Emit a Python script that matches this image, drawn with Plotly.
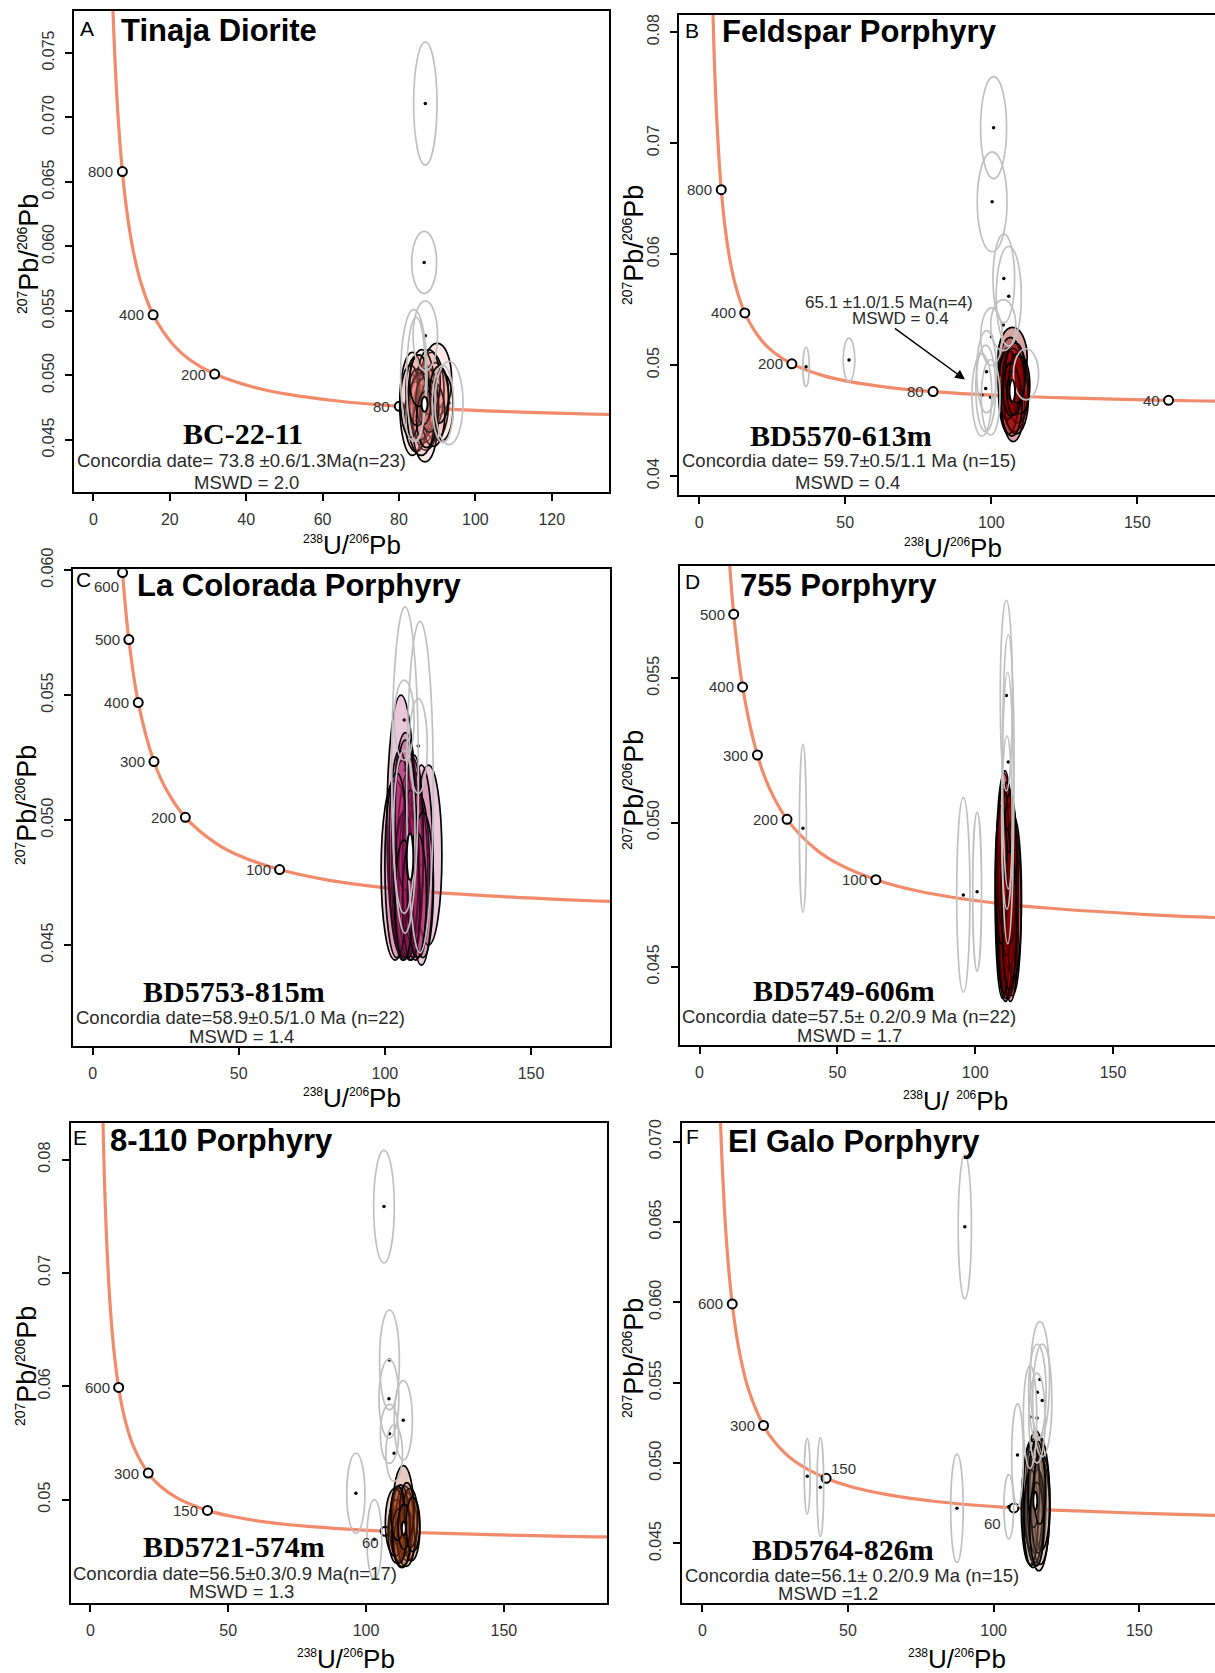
import plotly.graph_objects as go

# ---------------------------------------------------------------------------
# Tera-Wasserburg concordia: age (Ma), 238U/206Pb, 207Pb/206Pb
# ---------------------------------------------------------------------------
conc_age = [1300, 1200, 1150, 1100, 1000, 900, 800, 700, 600, 500, 400, 300,
            250, 200, 150, 125, 100, 80, 60, 50, 40, 35, 30]
conc_x = [4.476, 4.888, 5.121, 5.375, 5.959, 6.674, 7.568, 8.718, 10.252,
          12.399, 15.621, 20.992, 25.29, 31.73, 42.48, 51.07, 63.97, 80.08,
          106.94, 128.4, 160.7, 183.7, 214.5]
conc_y = [0.08433, 0.08012, 0.07812, 0.07619, 0.07249, 0.06905, 0.06580,
          0.06276, 0.05990, 0.05722, 0.05470, 0.05234, 0.05120, 0.05011,
          0.04905, 0.04853, 0.04802, 0.04761, 0.04721, 0.04702, 0.04682,
          0.04672, 0.04663]

# ---------------------------------------------------------------------------
# A  Tinaja Diorite (BC-22-11)
# ---------------------------------------------------------------------------
a_ages = [800, 400, 200, 80]
a_incl_x = [90.0, 83.5, 86.5, 89.5, 87.0, 85.0, 88.5, 84.5, 86.0, 91.0, 85.5, 87.5,
            86.8, 83.0, 89.0, 87.8, 85.8, 88.0, 86.4, 84.8, 90.5, 87.2, 85.2]
a_incl_y = [0.0497, 0.0478, 0.0478, 0.0480, 0.0470, 0.0490, 0.0488, 0.0468, 0.0485,
            0.0476, 0.0475, 0.0482, 0.0460, 0.0480, 0.0470, 0.0495, 0.0470, 0.0476,
            0.0480, 0.0483, 0.0485, 0.0466, 0.0496]
a_incl_sx = [3.8, 3.3, 3.6, 3.5, 3.4, 3.2, 3.3, 3.0, 3.5, 3.2, 2.8, 2.8, 3.2, 2.6,
             3.0, 3.0, 3.6, 2.4, 2.0, 2.5, 2.5, 2.6, 2.4]
a_incl_sy = [0.0028, 0.0040, 0.0030, 0.0030, 0.0028, 0.0026, 0.0030, 0.0027, 0.0035,
             0.0027, 0.0025, 0.0024, 0.0027, 0.0028, 0.0025, 0.0025, 0.0032, 0.0020,
             0.0018, 0.0022, 0.0022, 0.0022, 0.0020]
a_excl_x = [86.9, 86.6, 86.9, 83.9, 84.5, 93.1, 91.5]
a_excl_y = [0.07107, 0.05876, 0.05308, 0.0500, 0.0497, 0.04787, 0.0478]
a_excl_sx = [3.06, 3.26, 3.2, 3.46, 2.5, 3.67, 2.8]
a_excl_sy = [0.00476, 0.00241, 0.0027, 0.0051, 0.0048, 0.00323, 0.0030]
a_mean = [86.7, 0.04777, 0.8, 0.00058]

# ---------------------------------------------------------------------------
# B  Feldspar Porphyry (BD5570-613m)
# ---------------------------------------------------------------------------
b_ages = [800, 400, 200, 80, 40]
b_incl_x = [107.3, 106.5, 108.0, 107.5, 109.0, 106.0, 108.5, 107.5, 105.5, 110.0,
            107.0, 108.2, 106.8, 107.8, 108.8]
b_incl_y = [0.0507, 0.0490, 0.0480, 0.0468, 0.0478, 0.0476, 0.0470, 0.0485, 0.0483,
            0.0482, 0.0466, 0.0492, 0.0478, 0.0475, 0.0488]
b_incl_sx = [5.0, 4.2, 4.5, 4.0, 3.8, 3.5, 4.2, 3.6, 3.0, 3.2, 3.6, 3.4, 2.8, 2.4, 2.6]
b_incl_sy = [0.0027, 0.0035, 0.0040, 0.0037, 0.0030, 0.0038, 0.0032, 0.0030, 0.0032,
             0.0026, 0.0030, 0.0028, 0.0024, 0.0020, 0.0022]
b_excl_x = [100.8, 100.3, 104.3, 106.0, 104.1, 100.1, 111.9, 96.8, 98.1, 98.4, 99.8,
            36.6, 51.3]
b_excl_y = [0.07139, 0.06471, 0.0578, 0.0562, 0.0536, 0.05256, 0.04917, 0.0473,
            0.0479, 0.0494, 0.0471, 0.04985, 0.05046]
b_excl_sx = [4.45, 5.1, 3.7, 4.3, 4.3, 3.7, 4.3, 3.4, 3.4, 3.4, 3.2, 1.1, 2.0]
b_excl_sy = [0.00459, 0.0045, 0.0040, 0.0045, 0.0023, 0.0026, 0.0023, 0.0037, 0.0039,
             0.0037, 0.0034, 0.00178, 0.00196]
b_mean = [107.2, 0.04768, 0.97, 0.00098]

# ---------------------------------------------------------------------------
# C  La Colorada Porphyry (BD5753-815m)
# ---------------------------------------------------------------------------
c_ages = [600, 500, 400, 300, 200, 100]
c_incl_x = [105.5, 107.0, 114.9, 112.5, 103.5, 108.5, 110.5, 106.0, 109.5, 107.5, 111.5,
            105.0, 108.0, 110.0, 106.5, 113.0, 108.8, 107.0, 104.0, 109.0, 111.0, 106.5]
c_incl_y = [0.0498, 0.0490, 0.0486, 0.0482, 0.0480, 0.0482, 0.0478, 0.0484, 0.0485,
            0.0475, 0.0478, 0.0488, 0.0476, 0.0490, 0.0474, 0.0474, 0.0482, 0.0502,
            0.0482, 0.0468, 0.0470, 0.0468]
c_incl_sx = [4.8, 4.5, 4.6, 4.0, 4.8, 4.5, 4.2, 3.8, 3.5, 4.0, 3.8, 3.6, 3.3, 3.2, 3.5,
             3.6, 2.8, 3.5, 4.0, 3.0, 3.2, 3.0]
c_incl_sy = [0.0052, 0.0045, 0.0036, 0.0040, 0.0036, 0.0038, 0.0034, 0.0040, 0.0040,
             0.0030, 0.0033, 0.0040, 0.0031, 0.0036, 0.0029, 0.0029, 0.0030, 0.0030,
             0.0037, 0.0024, 0.0025, 0.0024]
c_excl_x = [106.9, 112.0, 106.6, 111.4, 106.6]
c_excl_y = [0.0520, 0.05132, 0.0540, 0.05296, 0.04953]
c_excl_sx = [4.55, 4.55, 3.4, 3.1, 3.7]
c_excl_sy = [0.00653, 0.00663, 0.0016, 0.0019, 0.00326]
c_mean = [108.6, 0.04853, 1.14, 0.00093]

# ---------------------------------------------------------------------------
# D  755 Porphyry (BD5749-606m)
# ---------------------------------------------------------------------------
d_ages = [500, 400, 300, 200, 100]
d_incl_x = [110.5, 111.5, 112.5, 110.0, 113.5, 111.0, 112.0, 110.8, 111.8, 112.8, 109.8,
            113.0, 111.2, 112.2, 110.4, 111.6, 114.0, 110.2, 112.6, 111.4, 109.5, 112.4]
d_incl_y = [0.0480, 0.0478, 0.0475, 0.0472, 0.0470, 0.0470, 0.0468, 0.0485, 0.0482,
            0.0463, 0.0476, 0.0479, 0.0465, 0.0474, 0.0468, 0.0488, 0.0474, 0.0488,
            0.0484, 0.0476, 0.0482, 0.0466]
d_incl_sx = [3.0, 2.8, 3.2, 2.7, 3.2, 3.2, 3.0, 2.6, 2.4, 2.8, 2.5, 2.6, 2.6, 2.2, 2.4,
             2.2, 2.8, 2.2, 2.4, 2.0, 2.2, 2.6]
d_incl_sy = [0.0037, 0.0036, 0.0035, 0.0033, 0.0030, 0.0032, 0.0029, 0.0033, 0.0030,
             0.0025, 0.0030, 0.0028, 0.0026, 0.0025, 0.0027, 0.0026, 0.0028, 0.0025,
             0.0026, 0.0022, 0.0024, 0.0024]
d_excl_x = [37.5, 95.7, 100.7, 111.3, 112.0, 111.8, 111.5]
d_excl_y = [0.0498, 0.04749, 0.0476, 0.0544, 0.0521, 0.0505, 0.0500]
d_excl_sx = [1.27, 2.4, 1.6, 2.2, 2.1, 2.1, 1.9]
d_excl_sy = [0.00291, 0.00337, 0.00275, 0.0033, 0.0044, 0.0047, 0.0030]
d_mean = None

# ---------------------------------------------------------------------------
# E  8-110 Porphyry (BD5721-574m)
# ---------------------------------------------------------------------------
e_ages = [600, 300, 150, 60]
e_incl_x = [113.5, 112.0, 115.0, 113.0, 111.0, 116.5, 114.0, 112.5, 110.5, 114.5, 113.0,
            116.0, 112.0, 114.8, 111.5, 113.8, 117.0]
e_incl_y = [0.0490, 0.0478, 0.0476, 0.0470, 0.0472, 0.0474, 0.0482, 0.0485, 0.0480,
            0.0466, 0.0463, 0.0484, 0.0468, 0.0490, 0.0488, 0.0476, 0.0478]
e_incl_sx = [3.8, 3.5, 3.5, 3.6, 3.0, 3.0, 3.2, 3.0, 3.5, 3.2, 3.0, 2.8, 2.6, 2.6, 2.5,
             2.2, 2.5]
e_incl_sy = [0.0040, 0.0032, 0.0030, 0.0030, 0.0028, 0.0028, 0.0030, 0.0028, 0.0030,
             0.0025, 0.0022, 0.0026, 0.0024, 0.0025, 0.0024, 0.0020, 0.0024]
e_excl_x = [106.5, 108.5, 108.3, 113.5, 108.5, 110.2, 96.3, 103.0]
e_excl_y = [0.07585, 0.06232, 0.0589, 0.0570, 0.0558, 0.0541, 0.05056, 0.0465]
e_excl_sx = [3.75, 3.6, 3.6, 3.3, 3.3, 3.0, 3.3, 2.7]
e_excl_sy = [0.00496, 0.00441, 0.0035, 0.0035, 0.0026, 0.0025, 0.00353, 0.0035]
e_mean = [113.7, 0.04747, 0.73, 0.00059]

# ---------------------------------------------------------------------------
# F  El Galo Porphyry (BD5764-826m)
# ---------------------------------------------------------------------------
f_ages = [600, 300, 150, 60]
f_incl_x = [113.5, 114.5, 115.5, 112.5, 116.0, 114.0, 113.0, 115.0, 116.5, 114.2, 112.8,
            115.2, 113.8, 114.8, 115.8]
f_incl_y = [0.0475, 0.0478, 0.0475, 0.0472, 0.0470, 0.0468, 0.0480, 0.0482, 0.0476,
            0.0472, 0.0466, 0.0470, 0.0485, 0.0462, 0.0484]
f_incl_sx = [3.8, 3.5, 3.8, 3.0, 3.2, 3.0, 2.8, 2.6, 2.8, 2.5, 2.4, 2.2, 2.0, 2.4, 2.0]
f_incl_sy = [0.0040, 0.0042, 0.0042, 0.0035, 0.0033, 0.0030, 0.0034, 0.0032, 0.0030,
             0.0028, 0.0030, 0.0026, 0.0025, 0.0026, 0.0022]
f_excl_x = [90.1, 36.0, 40.5, 87.4, 105.2, 108.2, 115.9, 116.7, 115.0, 114.9, 112.5]
f_excl_y = [0.0647, 0.04918, 0.04850, 0.04719, 0.04728, 0.0505, 0.0552, 0.0539, 0.0544,
            0.0528, 0.05286]
f_excl_sx = [2.27, 1.0, 1.14, 2.15, 1.68, 2.0, 3.3, 3.3, 3.0, 2.8, 2.3]
f_excl_sy = [0.00447, 0.00235, 0.00307, 0.00337, 0.0020, 0.00318, 0.0036, 0.0035, 0.0030,
             0.0028, 0.0032]
f_mean = [114.3, 0.04765, 0.69, 0.00057]

# ---------------------------------------------------------------------------
# Panel layout and styling
# ---------------------------------------------------------------------------
W, H = 1215, 1673
SANS = "Liberation Sans, Arial, sans-serif"
SERIF = "Liberation Serif, Times New Roman, serif"
CURVE = "#F28B6C"
GREY = "rgb(192,192,192)"
INK = "#2a2a2a"


def iso(mass, size):
    return f'<sup><span style="font-size:{size}px">{mass}</span></sup>'


X_LABEL = f"{iso(238, 12)}U/{iso(206, 12)}Pb"
X_LABEL_D = f"{iso(238, 12)}U/ {iso(206, 12)}Pb"
Y_LABEL = f"{iso(207, 14)}Pb/{iso(206, 14)}Pb"

panels = [
    dict(letter="A", title="Tinaja Diorite", sample="BC-22-11",
         date="Concordia date= 73.8 \u00b10.6/1.3Ma(n=23)", mswd="MSWD = 2.0",
         ages=a_ages, incl=(a_incl_x, a_incl_y, a_incl_sx, a_incl_sy),
         excl=(a_excl_x, a_excl_y, a_excl_sx, a_excl_sy), mean=a_mean,
         fill="rgba(240,130,120,0.18)",
         px=(74, 609), py=(10.7, 492.1), xr=[-5.1, 135], yr=[0.04096, 0.07827],
         xt=[0, 20, 40, 60, 80, 100, 120],
         yt=[0.045, 0.050, 0.055, 0.060, 0.065, 0.070, 0.075], yfmt="{:.3f}",
         p_letter=(0.025, 0.963), p_title=(0.085, 0.959), p_sample=(0.316, 0.121),
         p_date=(0.314, 0.065), p_mswd=(0.323, 0.019),
         xtitle=(352, 545), ytitle=(29, 254), xlab=X_LABEL, lab={}),
    dict(letter="B", title="Feldspar Porphyry", sample="BD5570-613m",
         date="Concordia date= 59.7\u00b10.5/1.1 Ma (n=15)", mswd="MSWD = 0.4",
         ages=b_ages, incl=(b_incl_x, b_incl_y, b_incl_sx, b_incl_sy),
         excl=(b_excl_x, b_excl_y, b_excl_sx, b_excl_sy), mean=b_mean,
         fill="rgba(150,0,0,0.36)",
         px=(679, 1215), py=(15, 494.6), xr=[-6.9, 176.6], yr=[0.03833, 0.08154],
         xt=[0, 50, 100, 150], yt=[0.04, 0.05, 0.06, 0.07, 0.08], yfmt="{:.2f}",
         p_letter=(0.025, 0.968), p_title=(0.077, 0.966), p_sample=(0.303, 0.124),
         p_date=(0.318, 0.0715), p_mswd=(0.315, 0.0246),
         xtitle=(953, 548), ytitle=(634, 245), xlab=X_LABEL, lab={}),
    dict(letter="C", title="La Colorada Porphyry", sample="BD5753-815m",
         date="Concordia date=58.9\u00b10.5/1.0 Ma (n=22)", mswd="MSWD = 1.4",
         ages=c_ages, incl=(c_incl_x, c_incl_y, c_incl_sx, c_incl_sy),
         excl=(c_excl_x, c_excl_y, c_excl_sx, c_excl_sy), mean=c_mean,
         fill="rgba(172,32,102,0.25)",
         px=(73, 610), py=(569.3, 1046.1), xr=[-6.7, 177], yr=[0.04096, 0.06003],
         xt=[0, 50, 100, 150], yt=[0.045, 0.050, 0.055, 0.060], yfmt="{:.3f}",
         p_letter=(0.0198, 0.979), p_title=(0.115, 0.966), p_sample=(0.299, 0.1144),
         p_date=(0.311, 0.060), p_mswd=(0.3147, 0.021),
         xtitle=(352, 1098), ytitle=(27, 805), xlab=X_LABEL,
         lab={600: ("right", "top", -2, -3)}),
    dict(letter="D", title="755 Porphyry", sample="BD5749-606m",
         date="Concordia date=57.5\u00b1 0.2/0.9 Ma (n=22)", mswd="MSWD = 1.7",
         ages=d_ages, incl=(d_incl_x, d_incl_y, d_incl_sx, d_incl_sy),
         excl=(d_excl_x, d_excl_y, d_excl_sx, d_excl_sy), mean=d_mean,
         fill="rgba(160,0,0,0.36)",
         px=(679.7, 1215), py=(565.7, 1045), xr=[-7.2, 187], yr=[0.04229, 0.0589],
         xt=[0, 50, 100, 150], yt=[0.045, 0.050, 0.055], yfmt="{:.3f}",
         p_letter=(0.024, 0.966), p_title=(0.109, 0.959), p_sample=(0.307, 0.114),
         p_date=(0.316, 0.059), p_mswd=(0.318, 0.020),
         xtitle=(955, 1101), ytitle=(634, 790), xlab=X_LABEL_D, lab={}),
    dict(letter="E", title="8-110 Porphyry", sample="BD5721-574m",
         date="Concordia date=56.5\u00b10.3/0.9 Ma(n=17)", mswd="MSWD = 1.3",
         ages=e_ages, incl=(e_incl_x, e_incl_y, e_incl_sx, e_incl_sy),
         excl=(e_excl_x, e_excl_y, e_excl_sx, e_excl_sy), mean=e_mean,
         fill="rgba(170,70,30,0.28)",
         px=(70.8, 607), py=(1122.6, 1603), xr=[-7.1, 187.4], yr=[0.04088, 0.08326],
         xt=[0, 50, 100, 150], yt=[0.05, 0.06, 0.07, 0.08], yfmt="{:.2f}",
         p_letter=(0.0168, 0.970), p_title=(0.069, 0.963), p_sample=(0.305, 0.118),
         p_date=(0.307, 0.062), p_mswd=(0.319, 0.023),
         xtitle=(346, 1659), ytitle=(27, 1366), xlab=X_LABEL,
         lab={60: ("right", "top", -4, -1)}),
    dict(letter="F", title="El Galo Porphyry", sample="BD5764-826m",
         date="Concordia date=56.1\u00b1 0.2/0.9 Ma (n=15)", mswd="MSWD =1.2",
         ages=f_ages, incl=(f_incl_x, f_incl_y, f_incl_sx, f_incl_sy),
         excl=(f_excl_x, f_excl_y, f_excl_sx, f_excl_sy), mean=f_mean,
         fill="rgba(165,125,105,0.24)",
         px=(681.7, 1215), py=(1122.6, 1602.6), xr=[-7.1, 176], yr=[0.04132, 0.07118],
         xt=[0, 50, 100, 150], yt=[0.045, 0.050, 0.055, 0.060, 0.065, 0.070],
         yfmt="{:.3f}",
         p_letter=(0.020, 0.972), p_title=(0.084, 0.960), p_sample=(0.303, 0.111),
         p_date=(0.320, 0.056), p_mswd=(0.274, 0.019),
         xtitle=(957, 1659), ytitle=(634, 1358), xlab=X_LABEL,
         lab={150: ("left", "bottom", 3, -1), 60: ("right", "top", -11, -5)}),
]

fig = go.Figure()
layout = {}
annotations = []
shapes = []


def ellipse(xref, yref, cx, cy, sx, sy, line, width, fill):
    return dict(type="circle", xref=xref, yref=yref, x0=cx - sx, x1=cx + sx,
                y0=cy - sy, y1=cy + sy, line=dict(color=line, width=width),
                fillcolor=fill, layer="above")


for i, p in enumerate(panels, start=1):
    xa = "x" if i == 1 else f"x{i}"
    ya = "y" if i == 1 else f"y{i}"
    left, right = p["px"]
    top, bottom = p["py"]

    axis_common = dict(showline=True, mirror=True, linecolor="black", linewidth=2,
                       ticks="outside", ticklen=7, tickwidth=1.5, tickcolor="black",
                       showgrid=False, zeroline=False, ticklabelstandoff=5,
                       automargin=False,
                       tickfont=dict(family=SANS, size=16, color="#333"))
    layout["xaxis" if i == 1 else f"xaxis{i}"] = dict(
        domain=[left / W, right / W], range=p["xr"], anchor=ya,
        tickvals=p["xt"], ticktext=[str(v) for v in p["xt"]], **axis_common)
    layout["yaxis" if i == 1 else f"yaxis{i}"] = dict(
        domain=[1 - bottom / H, 1 - top / H], range=p["yr"], anchor=xa,
        tickvals=p["yt"], ticktext=[p["yfmt"].format(v) for v in p["yt"]],
        tickangle=-90, **axis_common)

    # concordia line
    fig.add_trace(go.Scatter(x=conc_x, y=conc_y, mode="lines", xaxis=xa, yaxis=ya,
                             line=dict(color=CURVE, width=3.2, shape="spline"),
                             hoverinfo="skip", showlegend=False))

    # age ticks on the concordia
    mx = [conc_x[conc_age.index(a)] for a in p["ages"]]
    my = [conc_y[conc_age.index(a)] for a in p["ages"]]
    fig.add_trace(go.Scatter(x=mx, y=my, mode="markers", xaxis=xa, yaxis=ya,
                             marker=dict(symbol="circle", size=9, color="white",
                                         line=dict(color="black", width=2)),
                             hoverinfo="skip", showlegend=False))
    for a, x, y in zip(p["ages"], mx, my):
        xan, yan, xs, ys = p["lab"].get(a, ("right", "middle", -7, 0))
        annotations.append(dict(x=x, y=y, xref=xa, yref=ya, text=str(a),
                                showarrow=False, xanchor=xan, yanchor=yan,
                                xshift=xs, yshift=ys,
                                font=dict(family=SANS, size=15, color="#333")))

    # analysis centres
    ix, iy, isx, isy = p["incl"]
    ex, ey, esx, esy = p["excl"]
    fig.add_trace(go.Scatter(x=list(ex) + list(ix), y=list(ey) + list(iy),
                             mode="markers", xaxis=xa, yaxis=ya,
                             marker=dict(size=3.5, color="black"),
                             hoverinfo="skip", showlegend=False))

    # included analyses (filled), then rejected analyses (grey outlines)
    for cx, cy, sx, sy in zip(ix, iy, isx, isy):
        shapes.append(ellipse(xa, ya, cx, cy, sx, sy, "black", 1.7, p["fill"]))
    for cx, cy, sx, sy in zip(ex, ey, esx, esy):
        shapes.append(ellipse(xa, ya, cx, cy, sx, sy, GREY, 1.7, "rgba(0,0,0,0)"))
    if p["mean"] is not None:
        cx, cy, sx, sy = p["mean"]
        shapes.append(ellipse(xa, ya, cx, cy, sx, sy, "black", 2, "white"))

    dom_x = f"{xa} domain"
    dom_y = f"{ya} domain"
    annotations += [
        dict(x=p["p_letter"][0], y=p["p_letter"][1], xref=dom_x, yref=dom_y,
             text=p["letter"], showarrow=False, xanchor="center", yanchor="middle",
             font=dict(family=SANS, size=21, color="black")),
        dict(x=p["p_title"][0], y=p["p_title"][1], xref=dom_x, yref=dom_y,
             text=f"<b>{p['title']}</b>", showarrow=False, xanchor="left",
             yanchor="middle", font=dict(family=SANS, size=31, color="black")),
        dict(x=p["p_sample"][0], y=p["p_sample"][1], xref=dom_x, yref=dom_y,
             text=f"<b>{p['sample']}</b>", showarrow=False, xanchor="center",
             yanchor="middle", font=dict(family=SERIF, size=30, color="black")),
        dict(x=p["p_date"][0], y=p["p_date"][1], xref=dom_x, yref=dom_y,
             text=p["date"], showarrow=False, xanchor="center", yanchor="middle",
             font=dict(family=SANS, size=18.5, color=INK)),
        dict(x=p["p_mswd"][0], y=p["p_mswd"][1], xref=dom_x, yref=dom_y,
             text=p["mswd"], showarrow=False, xanchor="center", yanchor="middle",
             font=dict(family=SANS, size=18.5, color=INK)),
        dict(x=p["xtitle"][0] / W, y=1 - p["xtitle"][1] / H, xref="paper", yref="paper",
             text=p["xlab"], showarrow=False, xanchor="center", yanchor="middle",
             font=dict(family=SANS, size=26, color="black")),
        dict(x=p["ytitle"][0] / W, y=1 - p["ytitle"][1] / H, xref="paper", yref="paper",
             text=Y_LABEL, textangle=-90, showarrow=False,
             xanchor="center", yanchor="middle",
             font=dict(family=SANS, size=27, color="black")),
    ]

# secondary date for the older population in panel B
annotations += [
    dict(x=0.392, y=0.400, xref="x2 domain", yref="y2 domain",
         text="65.1 \u00b11.0/1.5 Ma(n=4)", showarrow=False, xanchor="center",
         yanchor="middle", font=dict(family=SANS, size=17, color=INK)),
    dict(x=0.413, y=0.368, xref="x2 domain", yref="y2 domain", text="MSWD = 0.4",
         showarrow=False, xanchor="center", yanchor="middle",
         font=dict(family=SANS, size=17, color=INK)),
    dict(x=91.0, y=0.0487, xref="x2", yref="y2", ax=66.5, ay=0.0534,
         axref="x2", ayref="y2", text="", showarrow=True, arrowhead=2,
         arrowsize=1.3, arrowwidth=1.5, arrowcolor="black"),
]

fig.update_layout(
    width=W, height=H, margin=dict(l=0, r=0, t=0, b=0),
    paper_bgcolor="white", plot_bgcolor="white", showlegend=False,
    annotations=annotations, shapes=shapes, **layout)

fig.write_html("out.html")
